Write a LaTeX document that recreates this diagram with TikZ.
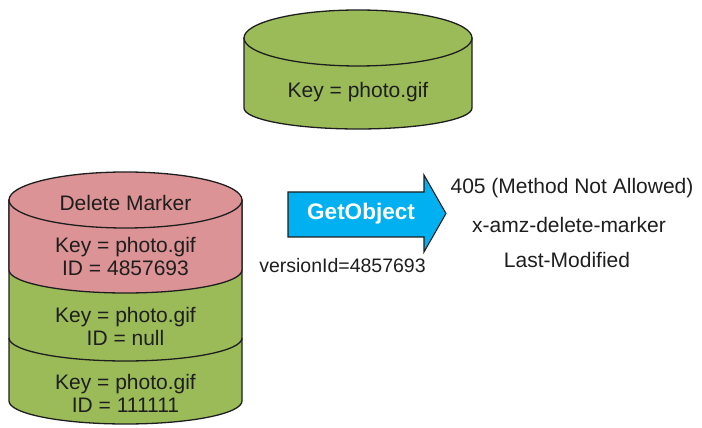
\documentclass[tikz,border=0pt]{standalone}
\usepackage{fontspec}
\setmainfont{Liberation Sans}
\definecolor{cylgreen}{HTML}{9BBB59}
\definecolor{cylpink}{HTML}{DB9395}
\definecolor{arrowblue}{HTML}{00B0F0}
\definecolor{ink}{HTML}{1E1E1E}
\begin{document}
\begin{tikzpicture}[x=1pt,y=1pt,
  outline/.style={draw=ink, line width=1.3pt, line join=round},
  lbl/.style={text=ink, font=\fontsize{21}{23}\selectfont, align=center, inner sep=0pt},
  smalllbl/.style={text=ink, font=\fontsize{19.5}{22}\selectfont, inner sep=0pt},
  btnlbl/.style={text=white, font=\bfseries\fontsize{22.5}{25}\selectfont, inner sep=0pt},
]
\useasboundingbox (0,0) rectangle (702,428);

% top cylinder
\path[outline, fill=cylgreen] (244,390) -- (244,320)
  arc[start angle=180, end angle=360, x radius=114pt, y radius=21pt] -- (472,390) -- cycle;
\path[outline, fill=cylgreen] (358,390) ellipse[x radius=114pt, y radius=28pt];
\node[lbl] (topkey) at (358,336) {Key = photo.gif};

% left stacked cylinder
\path[outline, fill=cylgreen] (9,228) -- (9,27)
  arc[start angle=180, end angle=360, x radius=116.5pt, y radius=23pt] -- (242,228) -- cycle;
\path[outline, fill=cylpink] (9,228) -- (9,158)
  arc[start angle=180, end angle=360, x radius=116.5pt, y radius=23pt] -- (242,228) -- cycle;
\draw[outline] (9,90) arc[start angle=180, end angle=360, x radius=116.5pt, y radius=23pt];
\path[outline, fill=cylpink] (125.5,228) ellipse[x radius=116.5pt, y radius=28pt];

\node[lbl] (marker) at (125.5,225) {Delete Marker};
\node[lbl] (v1) at (125.5,171.5) {Key = photo.gif\\ID = 4857693};
\node[lbl] (v2) at (125.5,101.5) {Key = photo.gif\\ID = null};
\node[lbl] (v3) at (125.5,34.5) {Key = photo.gif\\ID = 111111};

% GetObject arrow
\path[draw=ink, line width=1.1pt, line join=miter, fill=arrowblue]
  (288,236) -- (424,236) -- (424,253) -- (446,214.5) -- (424,176) -- (424,191)
  -- (288,191) -- cycle;
\node[btnlbl] (get) at (361,214.5) {GetObject};
\node[smalllbl] (ver) at (342.5,162) {versionId=4857693};

% response
\node[lbl] (resp) at (572,240) {405 (Method Not Allowed)};
\node[lbl] (hdr) at (569,203) {x-amz-delete-marker};
\node[lbl] (lm) at (567,168) {Last-Modified};
\end{tikzpicture}
\end{document}
